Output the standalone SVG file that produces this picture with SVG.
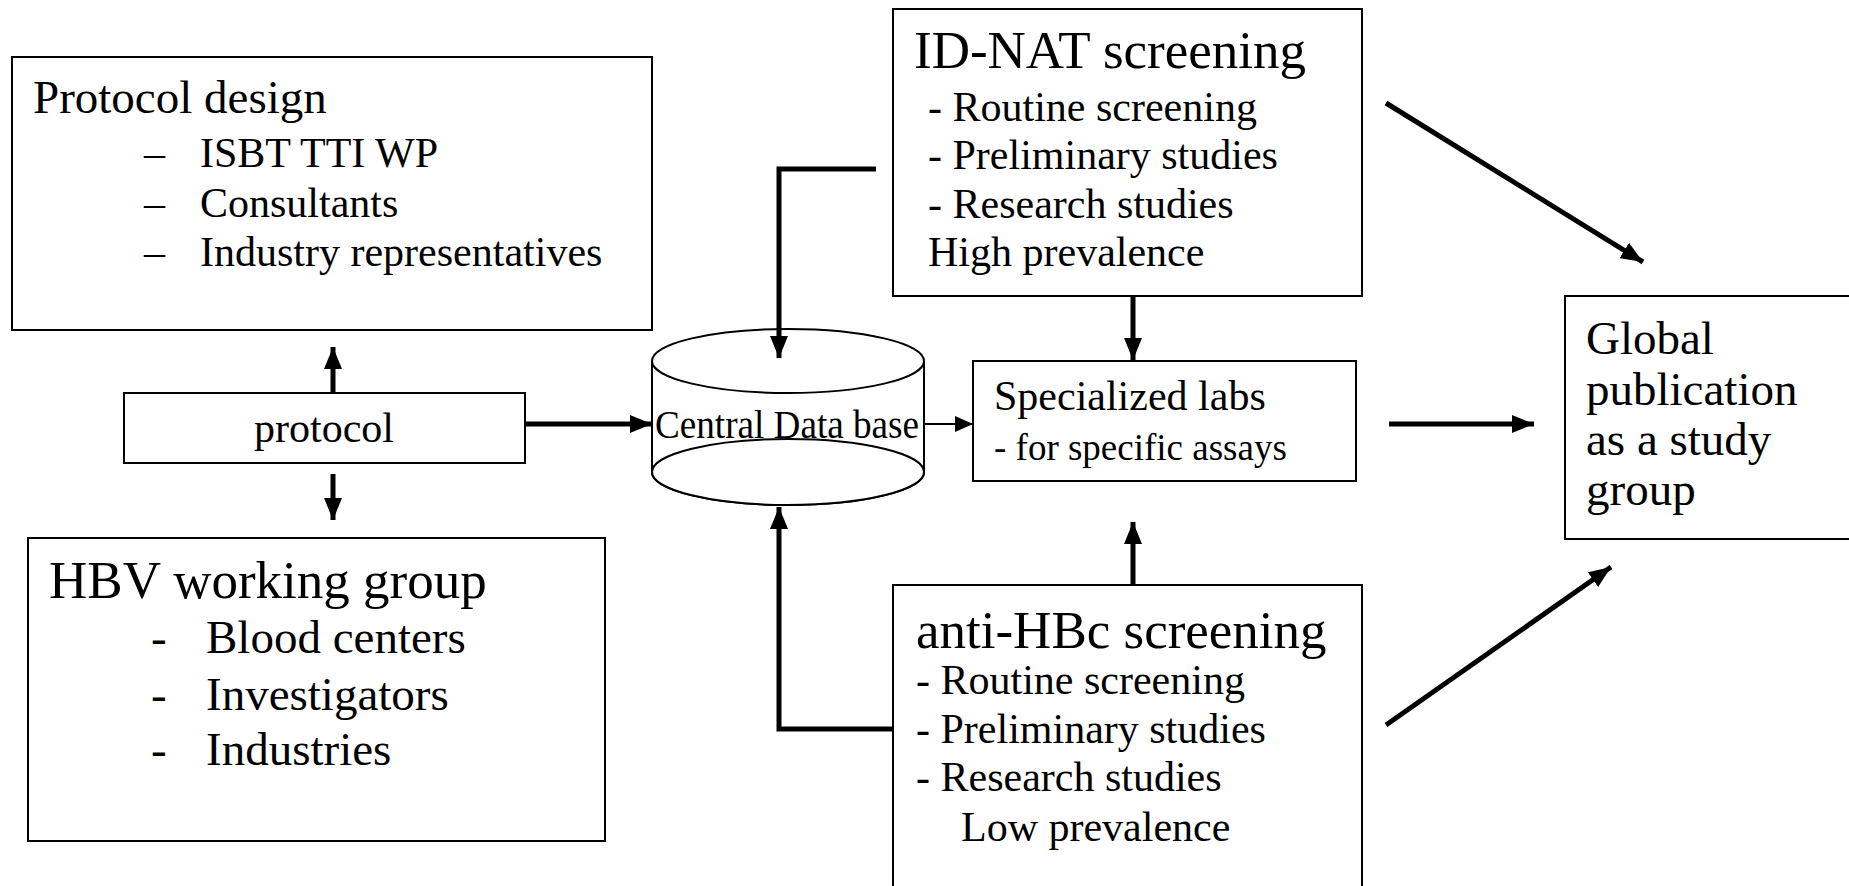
<svg xmlns="http://www.w3.org/2000/svg" width="1849" height="886" viewBox="0 0 1849 886">
<defs>
<style>
.box{fill:#fff;stroke:#000;stroke-width:2}
.t{font-family:"Liberation Serif","Times New Roman",serif;fill:#000}
.thick{fill:none;stroke:#000;stroke-width:5}
.thin{fill:none;stroke:#000;stroke-width:2}
</style>
<marker id="ah" markerUnits="userSpaceOnUse" markerWidth="24" markerHeight="18" refX="22" refY="9" orient="auto">
<path d="M0,0 L22,9 L0,18 Z" fill="#000"/>
</marker>
<marker id="ahs" markerUnits="userSpaceOnUse" markerWidth="20" markerHeight="16" refX="18" refY="8" orient="auto">
<path d="M0,0 L18,8 L0,16 Z" fill="#000"/>
</marker>
</defs>
<rect width="1849" height="886" fill="#fff"/>

<g id="protocol-design">
<rect class="box" x="12" y="57" width="640" height="273"/>
<text class="t" x="33" y="113" font-size="47">Protocol design</text>
<text class="t" x="144" y="167" font-size="42">–</text>
<text class="t" x="200" y="167" font-size="42">ISBT TTI WP</text>
<text class="t" x="144" y="217" font-size="42">–</text>
<text class="t" x="200" y="217" font-size="42">Consultants</text>
<text class="t" x="144" y="266" font-size="42">–</text>
<text class="t" x="200" y="266" font-size="42">Industry representatives</text>
</g>

<g id="protocol">
<rect class="box" x="124" y="393" width="401" height="70"/>
<text class="t" x="324" y="442" font-size="42" text-anchor="middle">protocol</text>
</g>

<g id="hbv-working-group">
<rect class="box" x="28" y="538" width="577" height="303"/>
<text class="t" x="49" y="598" font-size="53">HBV working group</text>
<text class="t" x="151" y="653" font-size="47">-</text>
<text class="t" x="206" y="653" font-size="47">Blood centers</text>
<text class="t" x="151" y="710" font-size="47">-</text>
<text class="t" x="206" y="710" font-size="47">Investigators</text>
<text class="t" x="151" y="765" font-size="47">-</text>
<text class="t" x="206" y="765" font-size="47">Industries</text>
</g>

<g id="central-database">
<path class="box" d="M652,361 L652,472 A136,33 0 0 0 924,472 L924,361"/>
<ellipse class="box" cx="788" cy="472" rx="136" ry="33"/>
<ellipse class="box" cx="788" cy="361" rx="136" ry="32"/>
<text class="t" x="787" y="438" font-size="40" text-anchor="middle" textLength="264" lengthAdjust="spacingAndGlyphs">Central Data base</text>
</g>

<g id="specialized-labs">
<rect class="box" x="973" y="361" width="383" height="120"/>
<text class="t" x="994" y="410" font-size="42">Specialized labs</text>
<text class="t" x="994" y="460" font-size="37">- for specific assays</text>
</g>

<g id="id-nat-screening">
<rect class="box" x="893" y="9" width="469" height="287"/>
<text class="t" x="914" y="68" font-size="53">ID-NAT screening</text>
<text class="t" x="928" y="121" font-size="42">- Routine screening</text>
<text class="t" x="928" y="169" font-size="42">- Preliminary studies</text>
<text class="t" x="928" y="218" font-size="42">- Research studies</text>
<text class="t" x="928" y="266" font-size="42">High prevalence</text>
</g>

<g id="anti-hbc-screening">
<rect class="box" x="893" y="585" width="469" height="320"/>
<text class="t" x="916" y="648" font-size="53">anti-HBc screening</text>
<text class="t" x="916" y="694" font-size="42">- Routine screening</text>
<text class="t" x="916" y="743" font-size="42">- Preliminary studies</text>
<text class="t" x="916" y="791" font-size="42">- Research studies</text>
<text class="t" x="961" y="841" font-size="42">Low prevalence</text>
</g>

<g id="global-publication">
<rect class="box" x="1565" y="296" width="300" height="243"/>
<text class="t" x="1586" y="354" font-size="47">Global</text>
<text class="t" x="1586" y="405" font-size="47">publication</text>
<text class="t" x="1586" y="455" font-size="47">as a study</text>
<text class="t" x="1586" y="505" font-size="47">group</text>
</g>

<g id="connectors">
<path class="thick" d="M333,393 L333,347" marker-end="url(#ah)"/>
<path class="thick" d="M333,474 L333,520" marker-end="url(#ah)"/>
<path class="thick" d="M525,424 L652,424" marker-end="url(#ah)"/>
<path class="thin" d="M924,424 L973,424" marker-end="url(#ahs)"/>
<path class="thick" d="M876,169 L779,169 L779,358" marker-end="url(#ah)"/>
<path class="thick" d="M893,729 L779,729 L779,507" marker-end="url(#ah)"/>
<path class="thick" d="M1133,296 L1133,360" marker-end="url(#ah)"/>
<path class="thick" d="M1133,585 L1133,522" marker-end="url(#ah)"/>
<path class="thick" d="M1389,424 L1534,424" marker-end="url(#ah)"/>
<path class="thick" d="M1386,103 L1643,262" marker-end="url(#ah)"/>
<path class="thick" d="M1386,725 L1611,567" marker-end="url(#ah)"/>
</g>
</svg>
